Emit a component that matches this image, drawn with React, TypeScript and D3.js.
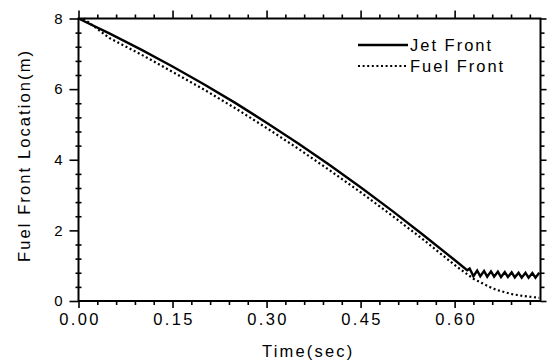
import * as d3 from 'd3';
import React from 'react';

// Jet front (solid)
const jetTime = [0, 0.05, 0.1, 0.15, 0.2, 0.25, 0.3, 0.35, 0.4, 0.45, 0.5, 0.55, 0.6, 0.62,
  0.624, 0.63, 0.636, 0.641, 0.647, 0.652, 0.658, 0.663, 0.669, 0.674, 0.68, 0.685, 0.691,
  0.696, 0.702, 0.707, 0.713, 0.718, 0.724, 0.729, 0.735];
const jetFront = [8.0, 7.57, 7.12, 6.64, 6.14, 5.61, 5.05, 4.47, 3.86, 3.22, 2.56, 1.87, 1.16, 0.87,
  0.92, 0.7, 0.86, 0.7, 0.85, 0.69, 0.84, 0.69, 0.83, 0.68, 0.82, 0.68, 0.81,
  0.67, 0.8, 0.66, 0.8, 0.66, 0.79, 0.66, 0.8];

// Fuel front (dotted)
const fuelTime = [0.008, 0.05, 0.1, 0.15, 0.2, 0.25, 0.3, 0.35, 0.4, 0.45, 0.5, 0.55, 0.6, 0.62,
  0.63, 0.64, 0.65, 0.66, 0.67, 0.68, 0.69, 0.7, 0.71, 0.72, 0.73, 0.735];
const fuelFront = [8.0, 7.44, 6.98, 6.49, 5.99, 5.46, 4.9, 4.32, 3.71, 3.08, 2.42, 1.74, 1.02, 0.76,
  0.63, 0.54, 0.45, 0.36, 0.3, 0.25, 0.2, 0.17, 0.14, 0.12, 0.1, 0.09];

const xMajor = [0, 0.15, 0.3, 0.45, 0.6];
const xMinor = [0.03, 0.06, 0.09, 0.12, 0.18, 0.21, 0.24, 0.27, 0.33, 0.36, 0.39, 0.42, 0.48, 0.51, 0.54, 0.57, 0.63, 0.66, 0.69, 0.72];
const yMajor = [0, 2, 4, 6, 8];
const yMinor = [0.4, 0.8, 1.2, 1.6, 2.4, 2.8, 3.2, 3.6, 4.4, 4.8, 5.2, 5.6, 6.4, 6.8, 7.2, 7.6];

export default function App() {
  const svgRef = React.useRef<SVGSVGElement>(null);

  React.useEffect(() => {
    if (svgRef.current == null) {
      return;
    }
    const left = 78.5;
    const right = 540.5;
    const top = 18.5;
    const bottom = 301;

    const svg = d3.select(svgRef.current);
    svg.selectAll('*').remove();

    const xScale = d3.scaleLinear().domain([0, 0.737]).range([left, right]);
    const yScale = d3.scaleLinear().domain([0, 8]).range([bottom, top]);

    const font = "'Liberation Sans', Arial, sans-serif";

    function styleAxis(g: d3.Selection<SVGGElement, unknown, null, undefined>) {
      g.select('.domain').remove();
      g.selectAll('line').attr('stroke', '#000').attr('stroke-width', 1.6);
      g.selectAll('text')
        .style('font-family', font)
        .style('font-size', '15px')
        .style('letter-spacing', '2px')
        .attr('fill', '#000');
    }

    // bottom
    svg.append('g')
      .attr('transform', `translate(0, ${bottom})`)
      .call(d3.axisBottom(xScale).tickValues(xMajor).tickSize(7).tickPadding(5).tickFormat(d3.format('.2f')))
      .call(styleAxis)
      .call((g) => g.selectAll('text').style('font-size', '16.5px').style('letter-spacing', '2.4px').attr('dx', '1px'));
    svg.append('g')
      .attr('transform', `translate(0, ${bottom})`)
      .call(d3.axisBottom(xScale).tickValues(xMinor).tickSize(4).tickFormat(() => ''))
      .call(styleAxis);

    // top
    svg.append('g')
      .attr('transform', `translate(0, ${top})`)
      .call(d3.axisTop(xScale).tickValues(xMajor).tickSize(8).tickFormat(() => ''))
      .call(styleAxis);
    svg.append('g')
      .attr('transform', `translate(0, ${top})`)
      .call(d3.axisTop(xScale).tickValues(xMinor).tickSize(4).tickFormat(() => ''))
      .call(styleAxis);

    // left
    svg.append('g')
      .attr('transform', `translate(${left}, 0)`)
      .call(d3.axisLeft(yScale).tickValues(yMajor).tickSize(9).tickPadding(5).tickFormat(d3.format('d')))
      .call(styleAxis);
    svg.append('g')
      .attr('transform', `translate(${left + 3}, 0)`)
      .call(d3.axisLeft(yScale).tickValues(yMinor).tickSize(6).tickFormat(() => ''))
      .call(styleAxis);

    // right
    svg.append('g')
      .attr('transform', `translate(${right}, 0)`)
      .call(d3.axisRight(yScale).tickValues(yMajor).tickSize(6).tickFormat(() => ''))
      .call(styleAxis);
    svg.append('g')
      .attr('transform', `translate(${right}, 0)`)
      .call(d3.axisRight(yScale).tickValues(yMinor).tickSize(4).tickFormat(() => ''))
      .call(styleAxis);

    // frame
    svg.append('rect')
      .attr('x', left)
      .attr('y', top)
      .attr('width', right - left)
      .attr('height', bottom - top)
      .attr('fill', 'none')
      .attr('stroke', '#000')
      .attr('stroke-width', 2);

    const line = d3.line<[number, number]>()
      .x((d) => xScale(d[0]))
      .y((d) => yScale(d[1]));

    svg.append('path')
      .datum(fuelTime.map((t, i) => [t, fuelFront[i]] as [number, number]))
      .attr('d', line)
      .attr('fill', 'none')
      .attr('stroke', '#000')
      .attr('stroke-width', 2.2)
      .attr('stroke-dasharray', '2,2.6');

    svg.append('path')
      .datum(jetTime.map((t, i) => [t, jetFront[i]] as [number, number]))
      .attr('d', line)
      .attr('fill', 'none')
      .attr('stroke', '#000')
      .attr('stroke-width', 2.4)
      .attr('stroke-linejoin', 'miter');

    // legend
    const legend = svg.append('g');
    legend.append('line')
      .attr('x1', 358).attr('x2', 408).attr('y1', 45).attr('y2', 45)
      .attr('stroke', '#000').attr('stroke-width', 2.4);
    legend.append('line')
      .attr('x1', 358).attr('x2', 408).attr('y1', 66).attr('y2', 66)
      .attr('stroke', '#000').attr('stroke-width', 2.2).attr('stroke-dasharray', '2,2.6');
    legend.append('text')
      .attr('x', 410).attr('y', 51)
      .style('font-family', font).style('font-size', '16.5px').style('letter-spacing', '2px')
      .text('Jet Front');
    legend.append('text')
      .attr('x', 410).attr('y', 72)
      .style('font-family', font).style('font-size', '16.5px').style('letter-spacing', '2px')
      .text('Fuel Front');

    // axis titles
    svg.append('text')
      .attr('x', 262)
      .attr('y', 357)
      .style('font-family', font).style('font-size', '16.5px').style('letter-spacing', '2.2px')
      .text('Time(sec)');
    svg.append('text')
      .attr('transform', 'translate(30, 262) rotate(-90)')
      .style('font-family', font).style('font-size', '16.5px').style('letter-spacing', '2.1px')
      .text('Fuel Front Location(m)');
  }, []);

  return (
    <svg
      ref={svgRef}
      width={547}
      height={363}
      style={{ position: 'absolute', left: 0, top: 0, background: '#fff' }}
    ></svg>
  );
}
